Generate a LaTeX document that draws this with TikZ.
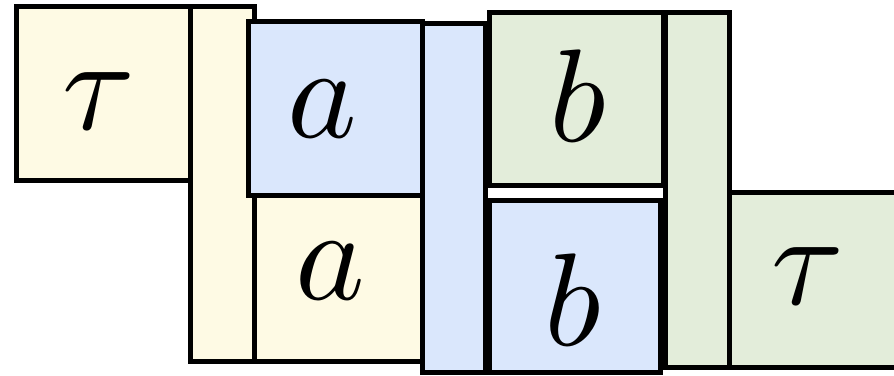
\documentclass[tikz,border=0pt]{standalone}
\usepackage{graphicx}
\definecolor{ylwfill}{HTML}{FEFAE4}
\definecolor{bluefill}{HTML}{DAE7FC}
\definecolor{grnfill}{HTML}{E3EDDA}
\newcommand{\bigsym}[1]{\scalebox{6.6}{$#1$}}
\tikzset{cell/.style={draw, line width=2.5pt, inner sep=0pt},
  ylw/.style={cell, fill=ylwfill},
  blu/.style={cell, fill=bluefill},
  grn/.style={cell, fill=grnfill},
  sym/.style n args={3}{label={[shift={(#1,#2)}]center:\bigsym{#3}}}}

\begin{document}
\begin{tikzpicture}[x=0.5pt, y=-0.5pt]
  \useasboundingbox (0,0) rectangle (894,375);
  \clip (0,0) rectangle (894,375);
  % left part
  \node[ylw, minimum width=87pt, minimum height=87pt, sym={-4.5}{8}{\tau}] (tauL) at (103,93) {};
  \node[ylw, minimum width=32pt, minimum height=177.5pt] (barY) at (222,183.5) {};
  \node[ylw, minimum width=84pt, minimum height=83pt, sym={-8}{-7}{a}] (aBot) at (338,278) {};
  \node[blu, minimum width=87pt, minimum height=87pt, sym={-13}{1}{a}] (aTop) at (335,108) {};
  % middle part
  \node[blu, minimum width=31.5pt, minimum height=174.5pt] (barB) at (453.5,197.5) {};
  \node[grn, minimum width=87pt, minimum height=86.5pt, sym={2}{-3}{b}] (bTop) at (576,98.5) {};
  \node[blu, minimum width=85.5pt, minimum height=86pt, sym={-1.5}{14}{b}] (bBot) at (574.5,286) {};
  % right part
  \node[grn, minimum width=32pt, minimum height=177.5pt] (barG) at (697,189.5) {};
  \node[grn, minimum width=87pt, minimum height=87.5pt, sym={-8.5}{-3}{\tau}] (tauR) at (816,279.5) {};
\end{tikzpicture}
\end{document}
